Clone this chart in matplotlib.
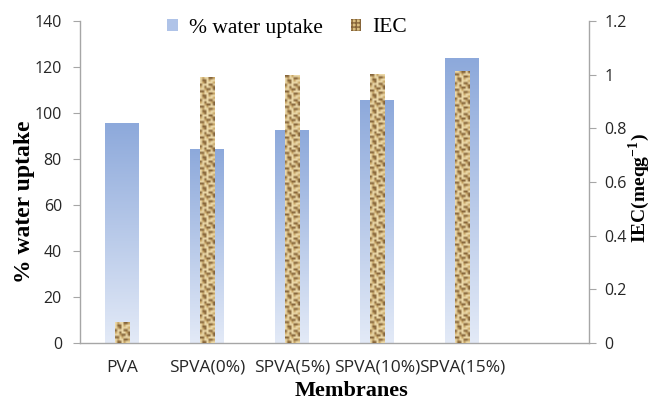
import numpy as np
import matplotlib
matplotlib.use("Agg")
import matplotlib.pyplot as plt
from matplotlib.patches import Patch
from matplotlib.colors import LinearSegmentedColormap, to_rgb

plt.rcParams['mathtext.fontset'] = 'custom'
plt.rcParams['mathtext.rm'] = 'Liberation Serif:bold'
plt.rcParams['mathtext.bf'] = 'Liberation Serif:bold'

categories = ["PVA", "SPVA(0%)", "SPVA(5%)", "SPVA(10%)", "SPVA(15%)", ""]
water_uptake = [95.5, 84, 92.5, 105.5, 123.5]
iec = [0.076, 0.99, 0.998, 1.0, 1.01]

fig = plt.figure(figsize=(6.52, 4.0), dpi=100)
ax = fig.add_axes([80/652, 57/400, 509/652, 322/400])
ax2 = ax.twinx()

x = np.arange(len(categories))

# gradient blue bars
cmap = LinearSegmentedColormap.from_list("bl", ["#E3EAF7", "#8DA9DB"])
grad = np.linspace(0, 1, 256).reshape(-1, 1)
bars = ax.bar(x[:len(water_uptake)], water_uptake, width=0.40, color="none", edgecolor="none")
for b in bars:
    x0, y0 = b.get_x(), b.get_y()
    w, h = b.get_width(), b.get_height()
    ax.imshow(grad, extent=[x0, x0 + w, y0, y0 + h], origin="lower", cmap=cmap,
              aspect="auto", zorder=1)
ax.set_xlim(-0.5, len(categories) - 0.5)
ax.set_ylim(0, 140)

# textured IEC bars
tile = np.array([
    [0, 2, 2, 0, 1, 0, 0],
    [0, 1, 0, 0, 2, 2, 1],
    [2, 2, 0, 1, 0, 0, 0],
    [0, 0, 1, 2, 2, 0, 2],
    [1, 0, 2, 0, 0, 1, 2],
    [2, 0, 0, 0, 2, 2, 0],
    [0, 1, 2, 0, 0, 0, 1],
])
pal = np.array([to_rgb("#EBD8A8"), to_rgb("#C8A666"), to_rgb("#86653A")])
ibars = ax2.bar(x[:len(iec)], iec, width=0.17, color="none", edgecolor="none")
for b in ibars:
    x0, y0 = b.get_x(), b.get_y()
    w, h = b.get_width(), b.get_height()
    rows = max(2, int(round(h / 1.2 * 322 / 2.2)))
    tex = np.tile(tile, (rows // tile.shape[0] + 1, 1))[:rows, :7]
    ax2.imshow(pal[tex], extent=[x0, x0 + w, y0, y0 + h], origin="lower",
               aspect="auto", interpolation="bilinear", zorder=2)
ax2.set_xlim(-0.5, len(categories) - 0.5)
ax2.set_ylim(0, 1.2)

gray = "#A6A6A6"
for a in (ax, ax2):
    for s in a.spines.values():
        s.set_visible(False)
ax.spines["left"].set_visible(True)
ax.spines["bottom"].set_visible(True)
ax2.spines["right"].set_visible(True)
for s in (ax.spines["left"], ax.spines["bottom"], ax2.spines["right"]):
    s.set_color(gray)
    s.set_linewidth(1.0)

txtc = "#262626"
ax.set_xticks(x)
ax.set_xticklabels(categories, family="Open Sans", size=12.5)
ax.tick_params(axis="x", length=0, pad=12, labelcolor=txtc)
ax.set_yticks(np.arange(0, 141, 20))
ax.set_yticklabels([str(v) for v in range(0, 141, 20)], family="Open Sans", size=11.5)
ax.tick_params(axis="y", length=5, color=gray, pad=8, labelcolor=txtc)
ax2.set_yticks([0, 0.2, 0.4, 0.6, 0.8, 1.0, 1.2])
ax2.set_yticklabels(["0", "0.2", "0.4", "0.6", "0.8", "1", "1.2"], family="Open Sans", size=11.5)
ax2.tick_params(axis="y", length=5, color=gray, pad=6, labelcolor=txtc)

serif = "Liberation Serif"
fig.text(351/652, 1 - 391/400, "Membranes", ha="center", va="center",
         family=serif, fontweight="bold", fontsize=16)
fig.text(25/652, 1 - 202/400, "% water uptake", ha="center", va="center",
         rotation=90, family=serif, fontweight="bold", fontsize=17)
fig.text(639/652, 1 - 188/400, r"IEC(meqg$^{\mathrm{-1}}$)", ha="center", va="center",
         rotation=90, family=serif, fontweight="bold", fontsize=14)

handles = [Patch(facecolor="#AFC3E8", edgecolor="none"),
           Patch(facecolor="#D9BE80", edgecolor="#86653A", hatch="++++", linewidth=0)]
fig.legend(handles, ["% water uptake", "IEC"], loc="center",
           bbox_to_anchor=(287/652, 1 - 28/400), ncol=2, frameon=False,
           prop=dict(family=serif, size=15.5), handlelength=0.5, handleheight=0.5,
           handletextpad=0.5, columnspacing=1.3)

fig.savefig("out.png", dpi=100)
